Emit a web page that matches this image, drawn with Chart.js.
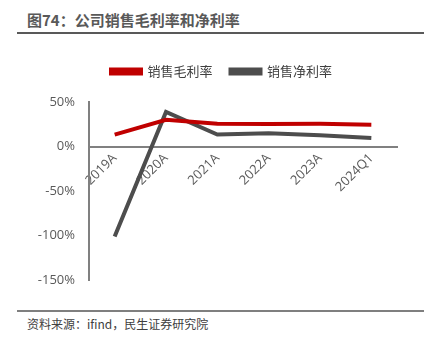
<!DOCTYPE html>
<html>
<head>
<meta charset="utf-8">
<script src="https://cdn.jsdelivr.net/npm/chart.js@4.4.1/dist/chart.umd.min.js"></script>
<style>
  body { margin: 0; width: 432px; height: 338px; background: #fff; position: relative; overflow: hidden;
         font-family: "Noto Sans CJK SC", "Noto Sans", sans-serif; }
  #title { position: absolute; left: 27px; top: 9px; font-size: 15px; font-weight: bold; color: #595959; }
  #topline { position: absolute; left: 17px; top: 32px; width: 407px; height: 2px; background: #595959; }
  #botline { position: absolute; left: 17px; top: 310px; width: 407px; height: 2px; background: #7f7f7f; }
  #source { position: absolute; left: 27px; top: 315px; font-size: 12px; color: #404040; }
  #wrap { position: absolute; left: 0; top: 40px; width: 432px; height: 262px; }
</style>
</head>
<body>
<div id="title">图74：公司销售毛利率和净利率</div>
<div id="topline"></div>
<div id="wrap"><canvas id="chart"></canvas></div>
<div id="botline"></div>
<div id="source">资料来源：ifind，民生证券研究院</div>
<script>
// 公司销售毛利率和净利率
const periods = ['2019A', '2020A', '2021A', '2022A', '2023A', '2024Q1'];
const grossMargin = [13.3, 30.0, 25.5, 25.3, 25.5, 24.6];
const netMargin = [-101.0, 38.9, 13.5, 14.8, 12.8, 9.6];
const yTicks = [50, 0, -50, -100, -150];

// extra room under the legend, and move it a bit to the right
const legendSpace = {
    id: 'legendSpace',
    beforeInit(chart) {
        const fit = chart.legend.fit;
        chart.legend.fit = function () {
            fit.call(this);
            this.height += 14;
        };
    },
    afterLayout(chart) {
        chart.legend.left += 18;
        chart.legend.right += 18;
    }
};

const ctx = document.getElementById('chart').getContext('2d');
const chart = new Chart(ctx, {
    type: 'line',
    data: {
        labels: periods,
        datasets: [{
            label: '销售毛利率',
            data: grossMargin,
            borderColor: '#c00000',
            backgroundColor: '#c00000',
            borderWidth: 4,
            pointRadius: 0,
            tension: 0
        }, {
            label: '销售净利率',
            data: netMargin,
            borderColor: '#4d4d4d',
            backgroundColor: '#4d4d4d',
            borderWidth: 4,
            pointRadius: 0,
            tension: 0
        }]
    },
    options: {
        responsive: true,
        maintainAspectRatio: false,
        animation: false,
        layout: { padding: { left: 10, right: 35, top: 7, bottom: 15 } },
        plugins: {
            legend: {
                position: 'top',
                labels: {
                    boxWidth: 30,
                    boxHeight: 4,
                    color: '#404040',
                    padding: 18,
                    font: { size: 13, family: '"Noto Sans CJK SC", sans-serif' }
                }
            },
            tooltip: { enabled: false }
        },
        scales: {
            x: {
                position: { y: 0 },
                offset: true,
                grid: { display: false, drawTicks: false },
                border: { color: '#808080', width: 2 },
                ticks: {
                    maxRotation: 45,
                    minRotation: 45,
                    color: '#595959',
                    padding: 4,
                    font: { size: 13, family: '"Open Sans", sans-serif' }
                }
            },
            y: {
                min: -150,
                max: 50,
                afterFit: (s) => { s.width = 79; },
                afterBuildTicks: (s) => { s.ticks = yTicks.map(v => ({ value: v })); },
                grid: { display: false, drawTicks: false },
                border: { color: '#808080', width: 2 },
                ticks: {
                    color: '#595959',
                    padding: 14,
                    callback: (v) => v + '%',
                    font: { size: 13, family: '"Open Sans", sans-serif' }
                }
            }
        }
    },
    plugins: [legendSpace]
});
</script>
</body>
</html>
